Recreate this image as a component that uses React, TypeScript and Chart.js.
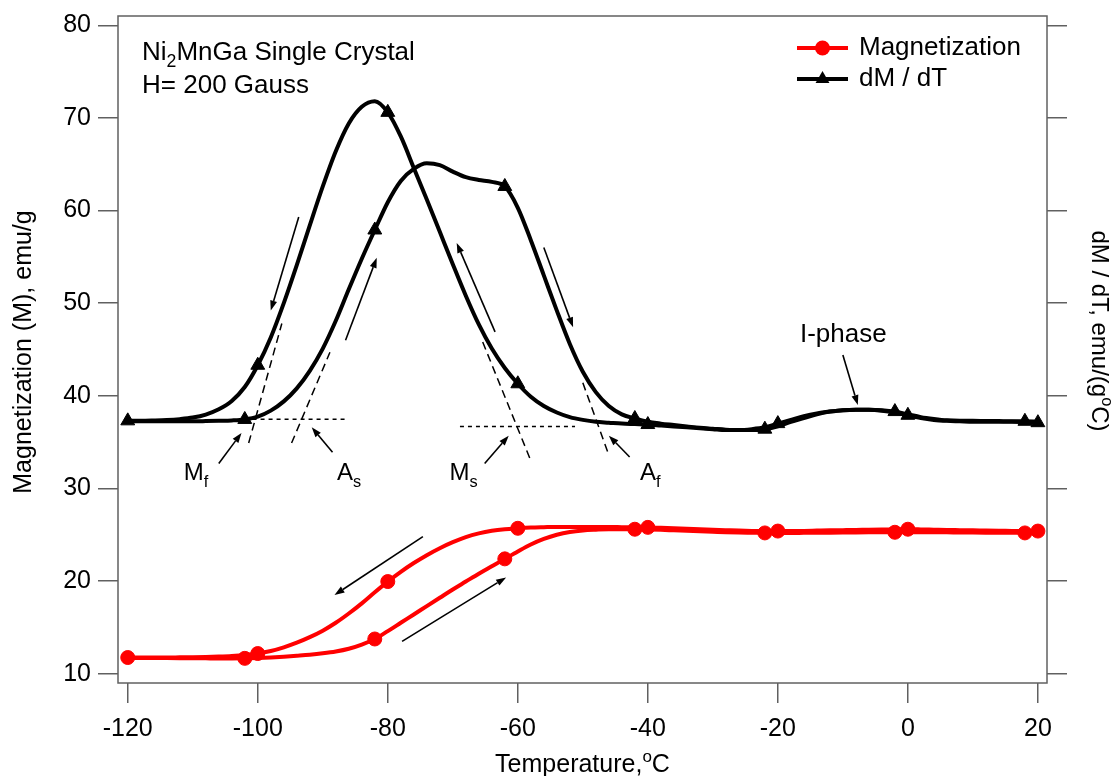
import React, { useEffect, useRef } from "react";
import { Chart, registerables } from "chart.js";

Chart.register(...registerables);

const FONT = '"Liberation Sans", Arial, Helvetica, sans-serif';
const FRAME = "#606060";
const RED = "#ff0000";

// Temperature grid (°C), shared by all four sweeps
const TEMPS = [
  -120, -118, -116, -114, -112, -110, -108, -106, -104, -102,
  -100, -98, -96, -94, -92, -90, -88, -86, -84, -82,
  -80, -78, -76, -74, -72, -70, -68, -66, -64, -62,
  -60, -58, -56, -54, -52, -50, -48, -46, -44, -42,
  -40, -38, -36, -34, -32, -30, -28, -26, -24, -22,
  -20, -18, -16, -14, -12, -10, -8, -6, -4, -2,
  0, 2, 4, 6, 8, 10, 12, 14, 16, 18, 20,
];

// Magnetization (emu/g), cooling sweep
const M_COOL = [
  11.75, 11.75, 11.75, 11.75, 11.77, 11.79, 11.82, 11.86, 11.92, 12.02,
  12.18, 12.45, 12.85, 13.35, 13.95, 14.65, 15.5, 16.5, 17.6, 18.8,
  19.95, 21.0, 21.95, 22.8, 23.55, 24.2, 24.75, 25.15, 25.43, 25.6,
  25.7, 25.78, 25.82, 25.85, 25.85, 25.85, 25.85, 25.84, 25.82, 25.8,
  25.8, 25.75, 25.7, 25.65, 25.6, 25.55, 25.5, 25.45, 25.42, 25.4,
  25.4, 25.4, 25.42, 25.45, 25.48, 25.5, 25.52, 25.55, 25.57, 25.58,
  25.6, 25.58, 25.55, 25.52, 25.5, 25.48, 25.45, 25.43, 25.42, 25.4, 25.4,
];

// Magnetization (emu/g), heating sweep
const M_HEAT = [
  11.7, 11.7, 11.7, 11.69, 11.68, 11.67, 11.66, 11.65, 11.65, 11.66,
  11.7, 11.76, 11.84, 11.94, 12.05, 12.2, 12.4, 12.7, 13.15, 13.75,
  14.6, 15.5, 16.4, 17.3, 18.2, 19.1, 19.95, 20.8, 21.6, 22.4,
  23.2, 23.95, 24.55, 25.0, 25.3, 25.47, 25.55, 25.6, 25.6, 25.6,
  25.57, 25.53, 25.48, 25.43, 25.38, 25.33, 25.28, 25.24, 25.22, 25.2,
  25.2, 25.2, 25.21, 25.22, 25.23, 25.24, 25.25, 25.26, 25.27, 25.27,
  25.28, 25.28, 25.27, 25.26, 25.25, 25.24, 25.23, 25.22, 25.21, 25.2, 25.2,
];

// dM/dT, cooling sweep
const DMDT_COOL = [
  37.3, 37.3, 37.33, 37.38, 37.48, 37.65, 37.98, 38.55, 39.45, 40.95,
  43.3, 46.3, 50.0, 54.1, 58.4, 62.6, 66.4, 69.4, 71.2, 71.8,
  70.6, 68.0, 64.6, 61.2, 57.7, 54.2, 50.8, 47.7, 45.1, 43.0,
  41.3, 39.9, 38.9, 38.2, 37.7, 37.4, 37.2, 37.1, 37.0, 36.95,
  36.9, 36.8, 36.7, 36.6, 36.5, 36.4, 36.3, 36.3, 36.4, 36.6,
  37.0, 37.4, 37.8, 38.1, 38.3, 38.45, 38.5, 38.5, 38.4, 38.2,
  37.9, 37.6, 37.4, 37.3, 37.25, 37.2, 37.2, 37.2, 37.2, 37.15, 37.1,
];

// dM/dT, heating sweep
const DMDT_HEAT = [
  37.25, 37.25, 37.25, 37.25, 37.25, 37.25, 37.27, 37.3, 37.34, 37.45,
  37.75, 38.4, 39.4, 40.8, 42.7, 45.1, 48.1, 51.5, 54.8, 57.9,
  60.9, 63.2, 64.5, 65.1, 64.9, 64.2, 63.6, 63.3, 63.1, 62.6,
  60.3, 56.8, 53.0, 49.2, 45.6, 42.6, 40.4, 38.9, 38.0, 37.55,
  37.2, 37.0, 36.85, 36.7, 36.55, 36.45, 36.35, 36.3, 36.3, 36.4,
  36.7, 37.2, 37.6, 38.0, 38.3, 38.45, 38.5, 38.5, 38.45, 38.3,
  38.0, 37.7, 37.5, 37.35, 37.3, 37.3, 37.28, 37.27, 37.26, 37.25, 37.2,
];

// Temperatures that carry a symbol on each sweep
const COOL_MARKS = [-120, -100, -80, -60, -40, -20, 0, 20];
const HEAT_MARKS = [-102, -82, -62, -42, -22, -2, 18];

const X_TICKS = [-120, -100, -80, -60, -40, -20, 0, 20];
const Y_TICKS = [10, 20, 30, 40, 50, 60, 70, 80];

// Annotation geometry in data units: [x1, y1, x2, y2], arrow head at (x2, y2)
type Seg = [number, number, number, number];
const SWEEP_ARROWS: Seg[] = [
  [-93.7, 59.3, -98.0, 49.2],
  [-86.5, 46.0, -81.7, 54.9],
  [-63.5, 46.9, -69.4, 56.5],
  [-56.0, 56.0, -51.5, 47.4],
  [-74.6, 24.8, -88.2, 18.5],
  [-77.8, 13.5, -61.8, 20.4],
];
const POINTER_ARROWS: Seg[] = [
  [-106.0, 32.7, -102.5, 36.0],
  [-88.5, 33.9, -91.7, 36.6],
  [-65.1, 32.7, -61.4, 35.7],
  [-42.8, 33.4, -46.0, 35.7],
  [-10.0, 44.4, -7.7, 39.0],
];
const BASELINES: Seg[] = [
  [-100.8, 37.47, -86.6, 37.47],
  [-68.9, 36.7, -51.2, 36.7],
];
const TANGENTS: Seg[] = [
  [-101.4, 34.9, -96.3, 47.8],
  [-94.8, 34.9, -88.9, 44.7],
  [-65.4, 45.8, -58.0, 33.0],
  [-50.0, 41.4, -46.0, 33.6],
];
const TRANSITION_LABELS = [
  { main: "M", sub: "f", x: -111.4, y: 30.9 },
  { main: "A", sub: "s", x: -87.8, y: 30.9 },
  { main: "M", sub: "s", x: -70.5, y: 30.9 },
  { main: "A", sub: "f", x: -41.2, y: 30.9 },
];

type Run = { t: string; shift?: "sub" | "sup" };

function runsWidth(ctx: CanvasRenderingContext2D, runs: Run[], size: number) {
  let w = 0;
  for (const r of runs) {
    const s = r.shift ? size * 0.68 : size;
    ctx.font = `${s}px ${FONT}`;
    w += ctx.measureText(r.t).width;
  }
  return w;
}

function drawRuns(ctx: CanvasRenderingContext2D, runs: Run[], x: number, y: number, size: number) {
  let cx = x;
  ctx.textBaseline = "alphabetic";
  ctx.textAlign = "left";
  for (const r of runs) {
    const s = r.shift ? size * 0.68 : size;
    ctx.font = `${s}px ${FONT}`;
    const dy = r.shift === "sub" ? size * 0.3 : r.shift === "sup" ? -size * 0.42 : 0;
    ctx.fillText(r.t, cx, y + dy);
    cx += ctx.measureText(r.t).width;
  }
}

function arrow(ctx: CanvasRenderingContext2D, x1: number, y1: number, x2: number, y2: number) {
  const ang = Math.atan2(y2 - y1, x2 - x1);
  const len = 10;
  const hw = 3.5;
  const bx = x2 - Math.cos(ang) * len;
  const by = y2 - Math.sin(ang) * len;
  ctx.beginPath();
  ctx.moveTo(x1, y1);
  ctx.lineTo(bx, by);
  ctx.stroke();
  ctx.beginPath();
  ctx.moveTo(x2, y2);
  ctx.lineTo(bx - Math.sin(ang) * hw, by + Math.cos(ang) * hw);
  ctx.lineTo(bx + Math.sin(ang) * hw, by - Math.cos(ang) * hw);
  ctx.closePath();
  ctx.fill();
}

function triangle(ctx: CanvasRenderingContext2D, x: number, y: number, r: number) {
  ctx.beginPath();
  for (let k = 0; k < 3; k++) {
    const a = (k * 2 * Math.PI) / 3;
    const vx = x + Math.sin(a) * r;
    const vy = y - Math.cos(a) * r;
    if (k === 0) ctx.moveTo(vx, vy);
    else ctx.lineTo(vx, vy);
  }
  ctx.closePath();
  ctx.fill();
}

const decorations = {
  id: "decorations",
  beforeDatasetsDraw(chart: any) {
    const { ctx, chartArea: a } = chart;
    ctx.save();
    ctx.strokeStyle = FRAME;
    ctx.lineWidth = 1.5;
    ctx.strokeRect(a.left, a.top, a.right - a.left, a.bottom - a.top);
    ctx.restore();
  },
  afterDatasetsDraw(chart: any) {
    const { ctx, chartArea: a, scales } = chart;
    const px = (v: number) => scales.x.getPixelForValue(v);
    const py = (v: number) => scales.y.getPixelForValue(v);
    ctx.save();
    ctx.fillStyle = "#000";
    ctx.strokeStyle = "#000";

    // extrapolated onset lines
    ctx.lineWidth = 1.5;
    ctx.setLineDash([4, 4]);
    for (const s of BASELINES) {
      ctx.beginPath();
      ctx.moveTo(px(s[0]), py(s[1]));
      ctx.lineTo(px(s[2]), py(s[3]));
      ctx.stroke();
    }
    ctx.setLineDash([8, 5]);
    for (const s of TANGENTS) {
      ctx.beginPath();
      ctx.moveTo(px(s[0]), py(s[1]));
      ctx.lineTo(px(s[2]), py(s[3]));
      ctx.stroke();
    }
    ctx.setLineDash([]);

    // sweep direction and label pointers
    ctx.lineWidth = 1.6;
    for (const s of [...SWEEP_ARROWS, ...POINTER_ARROWS]) {
      arrow(ctx, px(s[0]), py(s[1]), px(s[2]), py(s[3]));
    }

    // transition temperature labels
    for (const l of TRANSITION_LABELS) {
      drawRuns(ctx, [{ t: l.main }, { t: l.sub, shift: "sub" }], px(l.x), py(l.y), 24);
    }
    drawRuns(ctx, [{ t: "I-phase" }], px(-16.6), py(45.8), 26);

    // sample description
    drawRuns(ctx, [{ t: "Ni" }, { t: "2", shift: "sub" }, { t: "MnGa Single Crystal" }], px(-117.8), py(76.3), 26);
    drawRuns(ctx, [{ t: "H= 200 Gauss" }], px(-117.8), py(72.7), 26);

    // legend
    const rows = [
      { label: "Magnetization", color: RED, shape: "circle", y: a.top + 32 },
      { label: "dM / dT", color: "#000", shape: "triangle", y: a.top + 63 },
    ];
    for (const r of rows) {
      const x0 = a.right - 250;
      const x1 = a.right - 199;
      ctx.strokeStyle = r.color;
      ctx.fillStyle = r.color;
      ctx.lineWidth = 4;
      ctx.beginPath();
      ctx.moveTo(x0, r.y);
      ctx.lineTo(x1, r.y);
      ctx.stroke();
      const mx = (x0 + x1) / 2;
      if (r.shape === "circle") {
        ctx.beginPath();
        ctx.arc(mx, r.y, 7.5, 0, Math.PI * 2);
        ctx.fill();
      } else {
        triangle(ctx, mx, r.y, 8);
      }
      ctx.fillStyle = "#000";
      ctx.font = `26px ${FONT}`;
      ctx.textAlign = "left";
      ctx.textBaseline = "middle";
      ctx.fillText(r.label, a.right - 188, r.y);
    }

    ctx.restore();
  },
  afterDraw(chart: any) {
    const { ctx, chartArea: a } = chart;
    ctx.save();
    ctx.fillStyle = "#000";

    // x title
    const xRuns: Run[] = [{ t: "Temperature," }, { t: "o", shift: "sup" }, { t: "C" }];
    const xw = runsWidth(ctx, xRuns, 25);
    drawRuns(ctx, xRuns, (a.left + a.right) / 2 - xw / 2, 772, 25);

    // left title
    const lRuns: Run[] = [{ t: "Magnetization (M), emu/g" }];
    const lw = runsWidth(ctx, lRuns, 25);
    ctx.save();
    ctx.translate(31, 352);
    ctx.rotate(-Math.PI / 2);
    drawRuns(ctx, lRuns, -lw / 2, 0, 25);
    ctx.restore();

    // right title
    const rRuns: Run[] = [{ t: "dM / dT, emu/(g" }, { t: "o", shift: "sup" }, { t: "C)" }];
    const rw = runsWidth(ctx, rRuns, 24);
    ctx.save();
    ctx.translate(1092, 331);
    ctx.rotate(Math.PI / 2);
    drawRuns(ctx, rRuns, -rw / 2, 0, 24);
    ctx.restore();

    ctx.restore();
  },
};

const markerRadius = (marks: number[], r: number) => (c: any) => {
  const raw = c.raw as { x: number } | undefined;
  return raw && marks.includes(raw.x) ? r : 0;
};

const toPoints = (ys: number[]) => TEMPS.map((t, i) => ({ x: t, y: ys[i] }));

const tickAxis = (vals: number[]) => (scale: any) => {
  scale.ticks = vals.map((v) => ({ value: v }));
};

// fixed axis thickness; label overhang must not shrink the plot frame
const fixSize = (prop: "width" | "height", size: number) => (s: any) => {
  s[prop] = size;
  s.paddingTop = 0;
  s.paddingBottom = 0;
  s.paddingLeft = 0;
  s.paddingRight = 0;
};

const gridOpts = {
  drawOnChartArea: false,
  drawTicks: true,
  tickLength: 20,
  color: FRAME,
  lineWidth: 1.5,
};

export default function App() {
  const ref = useRef<HTMLCanvasElement | null>(null);

  useEffect(() => {
    if (!ref.current) return;
    const common = {
      borderWidth: 4,
      pointBorderWidth: 1,
      pointHoverRadius: 0,
      cubicInterpolationMode: "monotone" as const,
      fill: false,
    };
    const chart = new Chart(ref.current, {
      type: "line",
      data: {
        datasets: [
          {
            ...common,
            label: "dM / dT (cooling)",
            data: toPoints(DMDT_COOL),
            borderColor: "#000",
            backgroundColor: "#000",
            pointStyle: "triangle",
            pointRadius: markerRadius(COOL_MARKS, 8),
          },
          {
            ...common,
            label: "dM / dT (heating)",
            data: toPoints(DMDT_HEAT),
            borderColor: "#000",
            backgroundColor: "#000",
            pointStyle: "triangle",
            pointRadius: markerRadius(HEAT_MARKS, 8),
          },
          {
            ...common,
            label: "Magnetization (cooling)",
            data: toPoints(M_COOL),
            borderColor: RED,
            backgroundColor: RED,
            pointStyle: "circle",
            pointRadius: markerRadius(COOL_MARKS, 7),
          },
          {
            ...common,
            label: "Magnetization (heating)",
            data: toPoints(M_HEAT),
            borderColor: RED,
            backgroundColor: RED,
            pointStyle: "circle",
            pointRadius: markerRadius(HEAT_MARKS, 7),
          },
        ],
      },
      options: {
        animation: false,
        responsive: false,
        devicePixelRatio: 1,
        layout: { padding: { top: 16, left: 0, right: 0, bottom: 0 } },
        plugins: { legend: { display: false }, tooltip: { enabled: false } },
        events: [],
        scales: {
          x: {
            type: "linear",
            position: "bottom",
            min: -121.5,
            max: 21.4,
            afterBuildTicks: tickAxis(X_TICKS),
            afterFit: fixSize("height", 93),
            ticks: { color: "#000", font: { family: FONT, size: 25 }, padding: 11, maxRotation: 0, autoSkip: false },
            grid: gridOpts,
            border: { display: false },
          },
          y: {
            type: "linear",
            position: "left",
            min: 9,
            max: 81,
            afterBuildTicks: tickAxis(Y_TICKS),
            afterFit: fixSize("width", 118),
            ticks: { color: "#000", font: { family: FONT, size: 25 }, padding: 7, autoSkip: false },
            grid: gridOpts,
            border: { display: false },
          },
          y2: {
            type: "linear",
            position: "right",
            min: 9,
            max: 81,
            afterBuildTicks: tickAxis(Y_TICKS),
            afterFit: fixSize("width", 73),
            ticks: { display: false },
            grid: gridOpts,
            border: { display: false },
          },
        },
      },
      plugins: [decorations],
    } as any);
    return () => chart.destroy();
  }, []);

  return (
    <div style={{ position: "fixed", left: 0, top: 0, width: 1120, height: 776, background: "#fff" }}>
      <canvas ref={ref} width={1120} height={776} style={{ display: "block" }} />
    </div>
  );
}
